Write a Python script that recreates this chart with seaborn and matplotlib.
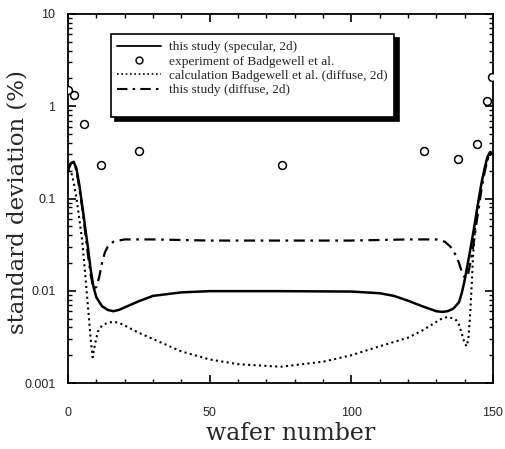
import numpy as np
import pandas as pd
import matplotlib
matplotlib.use("Agg")
import matplotlib.pyplot as plt
from matplotlib.ticker import FixedLocator, FixedFormatter, LogLocator, MultipleLocator, NullFormatter
from matplotlib.lines import Line2D
import seaborn as sns

# ---- data ----
spec_x = [0, 1, 2, 3, 4, 5, 6, 7, 8, 9, 10, 12, 14, 16, 18, 20, 25, 30, 40, 50, 75,
          100, 110, 115, 120, 125, 130, 132, 134, 136, 138, 139, 140, 141, 142, 143,
          144, 145, 146, 147, 148, 149, 150]
spec_y = [0.21, 0.24, 0.25, 0.21, 0.14, 0.085, 0.05, 0.03, 0.017, 0.011, 0.0085,
          0.0068, 0.0062, 0.006, 0.0062, 0.0066, 0.0077, 0.0088, 0.0096, 0.0099, 0.0099,
          0.0098, 0.0094, 0.0088, 0.0078, 0.0068, 0.006, 0.0059, 0.006, 0.0064, 0.0075,
          0.0095, 0.013, 0.019, 0.028, 0.042, 0.065, 0.1, 0.15, 0.21, 0.28, 0.32, 0.3]

exp_x = [0, 2, 5.5, 11.5, 25, 75.5, 125.5, 137.5, 144.5, 148, 149.7]
exp_y = [1.5, 1.33, 0.65, 0.23, 0.33, 0.23, 0.33, 0.27, 0.39, 1.14, 2.05]

calc_x = [0, 1, 2, 3, 4, 5, 6, 7, 8, 8.7, 9.5, 10.5, 12, 14, 16, 18, 20, 25, 30, 40,
          50, 60, 75, 90, 100, 110, 120, 125, 130, 132, 134, 136, 137, 138, 139, 140,
          140.7, 141.3, 142, 142.5, 143, 143.5, 144, 145, 146, 147, 148, 149, 150]
calc_y = [0.2, 0.2, 0.15, 0.1, 0.06, 0.035, 0.016, 0.007, 0.003, 0.0019, 0.0026,
          0.0036, 0.0042, 0.0045, 0.0046, 0.0045, 0.0042, 0.0035, 0.003, 0.0022,
          0.0018, 0.0016, 0.0015, 0.0017, 0.002, 0.0025, 0.0031, 0.0037, 0.0046,
          0.005, 0.0052, 0.005, 0.0048, 0.0043, 0.0034, 0.0027, 0.0025, 0.003, 0.006,
          0.012, 0.025, 0.04, 0.06, 0.1, 0.15, 0.2, 0.26, 0.3, 0.3]

diff_x = [0, 1, 2, 3, 4, 5, 6, 7, 8, 9, 10, 11, 12, 13, 14, 16, 18, 20, 30, 50, 75,
          100, 120, 130, 133, 135, 137, 138, 139, 140, 141, 142, 143, 144, 145, 146,
          147, 148, 149, 150]
diff_y = [0.2, 0.24, 0.25, 0.2, 0.13, 0.08, 0.045, 0.025, 0.015, 0.0105, 0.011,
          0.014, 0.02, 0.026, 0.03, 0.034, 0.035, 0.036, 0.036, 0.035, 0.035, 0.035,
          0.036, 0.036, 0.034, 0.03, 0.024, 0.02, 0.016, 0.014, 0.014, 0.02, 0.03,
          0.05, 0.08, 0.13, 0.19, 0.26, 0.32, 0.3]

labels = ["this study (specular, 2d)", "experiment of Badgewell et al.",
          "calculation Badgewell et al. (diffuse, 2d)", "this study (diffuse, 2d)"]
x_ticks = [0, 50, 100, 150]
y_ticks = [0.001, 0.01, 0.1, 1, 10]
y_tick_labels = ["0.001", "0.01", "0.1", "1", "10"]

# ---- plotting ----
sns.set_style("ticks")
plt.rcParams["font.family"] = ["Liberation Serif", "DejaVu Serif"]

fig = plt.figure(figsize=(5.06, 4.49), dpi=100)
ax = fig.add_axes([68 / 506, 1 - 383 / 449, (493 - 68) / 506, (383 - 14) / 449])

dot_style = (0, (1.0, 1.6))
dashdot_style = (0, (5, 2.5, 1.2, 2.5))

sns.lineplot(x=spec_x, y=spec_y, ax=ax, color="black", lw=1.8, estimator=None,
             sort=False)
sns.lineplot(x=calc_x, y=calc_y, ax=ax, color="black", lw=1.5, estimator=None,
             sort=False, linestyle=dot_style)
sns.lineplot(x=diff_x, y=diff_y, ax=ax, color="black", lw=1.6, estimator=None,
             sort=False, linestyle=dashdot_style)
sns.scatterplot(x=exp_x, y=exp_y, ax=ax, marker="o", s=32, facecolor="white",
                edgecolor="black", linewidth=1.1, zorder=5)

ax.set_yscale("log")
ax.set_xlim(0, 150)
ax.set_ylim(0.001, 10)

ax.xaxis.set_major_locator(FixedLocator(x_ticks))
ax.xaxis.set_major_formatter(FixedFormatter([str(v) for v in x_ticks]))
ax.xaxis.set_minor_locator(MultipleLocator(10))
ax.yaxis.set_major_locator(FixedLocator(y_ticks))
ax.yaxis.set_major_formatter(FixedFormatter(y_tick_labels))
ax.yaxis.set_minor_locator(LogLocator(base=10, subs=np.arange(2, 10)))
ax.yaxis.set_minor_formatter(NullFormatter())

ax.tick_params(which="both", direction="in", top=True, right=True, color="black")
ax.tick_params(which="major", length=6, width=1.2)
ax.tick_params(which="minor", length=3, width=1.0)
ax.tick_params(axis="x", which="major", pad=17)
ax.tick_params(axis="y", which="major", pad=9)
for lab in ax.get_xticklabels() + ax.get_yticklabels():
    lab.set_fontfamily(["Liberation Sans", "DejaVu Sans"])
    lab.set_fontsize(9)
for sp in ax.spines.values():
    sp.set_linewidth(1.3)
    sp.set_color("black")

ax.set_xlabel("wafer number", fontsize=17, family=["DejaVu Serif"])
ax.set_ylabel("standard deviation (%)", fontsize=16.5, family=["DejaVu Serif"])
ax.xaxis.label.set_va("center")
ax.yaxis.label.set_va("center")
ax.xaxis.set_label_coords(0.525, -0.138)
ax.yaxis.set_label_coords(-0.118, 0.49)

handles = [
    Line2D([], [], color="black", lw=1.3),
    Line2D([], [], color="black", lw=0, marker="o", markersize=5,
           markerfacecolor="white", markeredgewidth=1.0),
    Line2D([], [], color="black", lw=1.2, linestyle=dot_style),
    Line2D([], [], color="black", lw=1.5, linestyle=dashdot_style),
    Line2D([], [], lw=0, alpha=0),
]
leg = ax.legend(handles, labels + [""], loc="upper left", bbox_to_anchor=(0.1, 0.945),
                fontsize=9.6, frameon=True, fancybox=False,
                shadow={"color": "black", "alpha": 1.0, "ox": 3, "oy": -3},
                handlelength=3.3, handletextpad=0.6, borderpad=0.5,
                labelspacing=0.15, borderaxespad=0)
leg.get_frame().set_edgecolor("black")
leg.get_frame().set_linewidth(1.2)
leg.get_frame().set_facecolor("white")

fig.savefig("out.png", dpi=100)
